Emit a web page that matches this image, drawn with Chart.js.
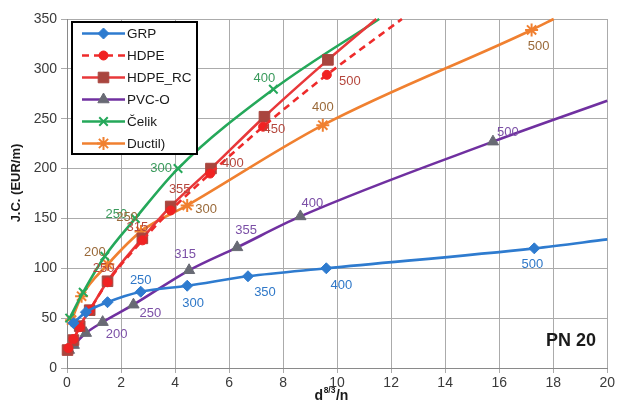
<!DOCTYPE html>
<html><head><meta charset="utf-8">
<script src="https://cdn.jsdelivr.net/npm/chart.js@4.4.1/dist/chart.umd.min.js"></script>
<style>html,body{margin:0;padding:0;background:#fff}#wrap{position:relative;width:617px;height:410px}</style>
</head><body><div id="wrap"><canvas id="c" width="617" height="410"></canvas></div>
<script>
// ---- data ----
const seriesNames = ['GRP', 'HDPE', 'HDPE_RC', 'PVC-O', 'Čelik', 'Ductil)'];

const grpX = [0.24, 0.70, 1.50, 2.73, 4.45, 6.70, 9.60, 17.30, 20.0];
const grpY = [45, 56, 66, 76.5, 82.5, 92, 100, 120, 129];
const grpD = ['', '', '', '250', '300', '350', '400', '500', null];

const hdpeX = [0.05, 0.24, 0.47, 0.84, 1.50, 2.79, 3.84, 5.30, 7.26, 9.62, 12.4];
const hdpeY = [20, 29, 41, 58, 86, 128, 158, 195, 242, 294, 350];
const hdpeD = ['', '', '', '', '', '', '', '', '', '', null];

const hdpeRcX = [0.02, 0.24, 0.47, 0.84, 1.50, 2.79, 3.84, 5.33, 7.31, 9.66, 11.45];
const hdpeRcY = [18, 28, 42, 58, 87, 130, 162, 200, 252, 309, 350];
const hdpeRcD = ['', '', '', '', '250', '315', '355', '400', '450', '500', null];

const pvcX = [0.07, 0.25, 0.70, 1.32, 2.46, 4.52, 6.30, 8.64, 15.77, 20.0];
const pvcY = [18, 23, 35, 46, 63.5, 98, 121, 152, 227, 268];
const pvcD = ['', '', '', '200', '250', '315', '355', '400', '500', null];

const celikX = [0.10, 0.60, 1.40, 2.53, 4.11, 7.64, 11.56];
const celikY = [50, 76, 112, 150, 200, 279.5, 350];
const celikD = ['', '', '', '250', '300', '400', null];

const ductX = [0.17, 0.54, 1.51, 2.74, 4.45, 9.47, 17.2, 18.02];
const ductY = [48, 72, 104, 137, 163, 243.5, 339, 350];
const ductD = ['', '', '200', '250', '300', '400', '500', null];

const xTickStep = 2, xMin = 0, xMax = 20;
const yTickStep = 50, yMin = 0, yMax = 350;
const yTitle = 'J.C. (EUR/m)';
const xTitleParts = ['d', '8/3', '/n'];
const noteText = 'PN 20';

// ---- presentation ----
const labelOffsets = {
  'GRP': {'250': [0, -11], '300': [6, 18], '350': [17, 16], '400': [15, 17], '500': [-2, 16]},
  'HDPE_RC': {'250': [-4, -13], '315': [-5, -11], '355': [9, -17], '400': [22, -5], '450': [10, 13], '500': [22, 22]},
  'PVC-O': {'200': [14, 12], '250': [17, 9], '315': [-4, -16], '355': [9, -17], '400': [12, -13], '500': [15, -9]},
  'Čelik': {'250': [-19, -4], '300': [-17, 0], '400': [-9, -11]},
  'Ductil)': {'200': [-13, -12], '250': [-14, -14], '300': [19, 4], '400': [0, -18], '500': [7, 16]}
};
const FONT = "'Liberation Sans', Arial, sans-serif";

function pts(xs, ys) { return xs.map((x, i) => ({x: x, y: ys[i]})); }

function mk(name, xs, ys, ds, st) {
  return Object.assign({
    label: name,
    data: pts(xs, ys),
    diam: ds,
    showLine: true,
    fill: false,
    clip: false,
    cubicInterpolationMode: 'monotone',
    borderWidth: 2.6,
    pointRadius: c => (ds[c.dataIndex] === null ? 0 : st.r),
    pointHoverRadius: c => (ds[c.dataIndex] === null ? 0 : st.r),
  }, st);
}

const datasets = [
  mk(seriesNames[0], grpX, grpY, grpD, {borderColor: '#2e7bcf', pointStyle: 'rectRot', r: 5.5, pointBackgroundColor: '#2e7bcf', pointBorderColor: '#2e7bcf', pointBorderWidth: 1, labelColor: '#2f78c8'}),
  mk(seriesNames[1], hdpeX, hdpeY, hdpeD, {borderColor: '#ee2b2b', borderDash: [7, 5], pointStyle: 'circle', r: 4.5, pointBackgroundColor: '#f02222', pointBorderColor: '#f02222', pointBorderWidth: 1, labelColor: '#b5473d'}),
  mk(seriesNames[2], hdpeRcX, hdpeRcY, hdpeRcD, {borderColor: '#e8383a', pointStyle: 'rect', r: 7.5, pointBackgroundColor: '#a9453e', pointBorderColor: '#a9453e', pointBorderWidth: 1, labelColor: '#b5473d'}),
  mk(seriesNames[3], pvcX, pvcY, pvcD, {borderColor: '#7030a0', pointStyle: 'triangle', r: 6.5, pointBackgroundColor: '#686a74', pointBorderColor: '#686a74', pointBorderWidth: 1, labelColor: '#7b4fa6'}),
  mk(seriesNames[4], celikX, celikY, celikD, {borderColor: '#25a85a', pointStyle: 'crossRot', r: 6, pointBackgroundColor: '#25a85a', pointBorderColor: '#25a85a', pointBorderWidth: 2, labelColor: '#3a9a5c'}),
  mk(seriesNames[5], ductX, ductY, ductD, {borderColor: '#f08030', pointStyle: 'star', r: 6.5, pointBackgroundColor: '#f08030', pointBorderColor: '#f08030', pointBorderWidth: 2, labelColor: '#9a6a3a'})
];

function drawMarker(ctx, style, x, y, r, fill, stroke, bw) {
  ctx.save();
  ctx.setLineDash([]);
  ctx.fillStyle = fill; ctx.strokeStyle = stroke; ctx.lineWidth = bw;
  ctx.beginPath();
  if (style === 'circle') { ctx.arc(x, y, r, 0, Math.PI * 2); ctx.fill(); ctx.stroke(); }
  else if (style === 'rect') { const s = r * Math.SQRT1_2; ctx.rect(x - s, y - s, 2 * s, 2 * s); ctx.fill(); ctx.stroke(); }
  else if (style === 'rectRot') { ctx.moveTo(x, y - r); ctx.lineTo(x + r, y); ctx.lineTo(x, y + r); ctx.lineTo(x - r, y); ctx.closePath(); ctx.fill(); ctx.stroke(); }
  else if (style === 'triangle') {
    let a = 0;
    ctx.moveTo(x + Math.sin(a) * r, y - Math.cos(a) * r); a += 2 * Math.PI / 3;
    ctx.lineTo(x + Math.sin(a) * r, y - Math.cos(a) * r); a += 2 * Math.PI / 3;
    ctx.lineTo(x + Math.sin(a) * r, y - Math.cos(a) * r); ctx.closePath(); ctx.fill(); ctx.stroke();
  } else if (style === 'crossRot' || style === 'star') {
    const d = r * Math.SQRT1_2;
    ctx.moveTo(x - d, y - d); ctx.lineTo(x + d, y + d);
    ctx.moveTo(x - d, y + d); ctx.lineTo(x + d, y - d);
    if (style === 'star') { ctx.moveTo(x, y - r); ctx.lineTo(x, y + r); ctx.moveTo(x - r, y); ctx.lineTo(x + r, y); }
    ctx.stroke();
  }
  ctx.restore();
}

const decorPlugin = {
  id: 'decor',
  afterDatasetsDraw(chart) {
    const ctx = chart.ctx;
    // diameter labels
    ctx.save();
    ctx.font = '13px ' + FONT;
    ctx.textAlign = 'center';
    ctx.textBaseline = 'middle';
    chart.data.datasets.forEach((ds, di) => {
      const meta = chart.getDatasetMeta(di);
      const offs = labelOffsets[ds.label] || {};
      ds.diam.forEach((lab, i) => {
        if (!lab) return;
        const p = meta.data[i];
        const o = offs[lab] || [0, -12];
        ctx.fillStyle = ds.labelColor;
        ctx.fillText(lab, p.x + o[0], p.y + o[1]);
      });
    });
    ctx.restore();
  },
  afterDraw(chart) {
    const ctx = chart.ctx;
    // legend box
    ctx.save();
    ctx.fillStyle = '#fff';
    ctx.fillRect(72, 22, 125, 132);
    ctx.lineWidth = 2;
    ctx.strokeStyle = '#000';
    ctx.strokeRect(72, 22, 125, 132);
    ctx.font = '13.5px ' + FONT;
    ctx.textAlign = 'left';
    ctx.textBaseline = 'middle';
    chart.data.datasets.forEach((ds, i) => {
      const y = 33.5 + i * 22;
      ctx.save();
      ctx.strokeStyle = ds.borderColor;
      ctx.lineWidth = 2.6;
      ctx.setLineDash(ds.borderDash || []);
      ctx.beginPath(); ctx.moveTo(82, y); ctx.lineTo(125, y); ctx.stroke();
      ctx.restore();
      drawMarker(ctx, ds.pointStyle, 103.5, y, ds.r, ds.pointBackgroundColor, ds.pointBorderColor, ds.pointBorderWidth);
      ctx.fillStyle = '#1a1a1a';
      ctx.fillText(ds.label, 127, y + 1);
    });
    ctx.restore();
    // axis titles and note
    ctx.save();
    ctx.fillStyle = '#1a1a1a';
    ctx.font = 'bold 13px ' + FONT;
    ctx.translate(16, 183);
    ctx.rotate(-Math.PI / 2);
    ctx.textAlign = 'center';
    ctx.textBaseline = 'middle';
    ctx.fillText(yTitle, 0, 0);
    ctx.restore();

    ctx.save();
    ctx.fillStyle = '#1a1a1a';
    ctx.textBaseline = 'alphabetic';
    ctx.textAlign = 'left';
    const f1 = 'bold 14px ' + FONT, f2 = 'bold 8.5px ' + FONT;
    ctx.font = f1; const w1 = ctx.measureText(xTitleParts[0]).width, w3 = ctx.measureText(xTitleParts[2]).width;
    ctx.font = f2; const w2 = ctx.measureText(xTitleParts[1]).width;
    let x0 = 331 - (w1 + w2 + w3) / 2;
    ctx.font = f1; ctx.fillText(xTitleParts[0], x0, 400);
    ctx.font = f2; ctx.fillText(xTitleParts[1], x0 + w1 + 0.5, 393);
    ctx.font = f1; ctx.fillText(xTitleParts[2], x0 + w1 + w2 + 1, 400);
    ctx.font = 'bold 18px ' + FONT;
    ctx.textAlign = 'center';
    ctx.textBaseline = 'middle';
    ctx.fillText(noteText, 571, 341);
    ctx.restore();
  }
};

new Chart(document.getElementById('c'), {
  type: 'scatter',
  data: {datasets: datasets},
  options: {
    responsive: false,
    animation: false,
    events: [],
    layout: {padding: {top: 19, right: 8, left: 0, bottom: 0}},
    plugins: {legend: {display: false}, tooltip: {enabled: false}},
    scales: {
      x: {
        type: 'linear', min: xMin, max: xMax,
        ticks: {stepSize: xTickStep, font: {family: FONT, size: 14}, color: '#3a3a3a', padding: 2, maxRotation: 0},
        grid: {color: '#ababab', lineWidth: 1, tickLength: 5},
        border: {color: '#8a8a8a', width: 1},
        afterFit(s) { s.height = 42; }
      },
      y: {
        type: 'linear', min: yMin, max: yMax,
        ticks: {stepSize: yTickStep, font: {family: FONT, size: 14}, color: '#3a3a3a', padding: 4},
        grid: {color: '#ababab', lineWidth: 1, tickLength: 6},
        border: {color: '#8a8a8a', width: 1},
        afterFit(s) { s.width = 67; }
      }
    }
  },
  plugins: [decorPlugin]
});
</script></body></html>
